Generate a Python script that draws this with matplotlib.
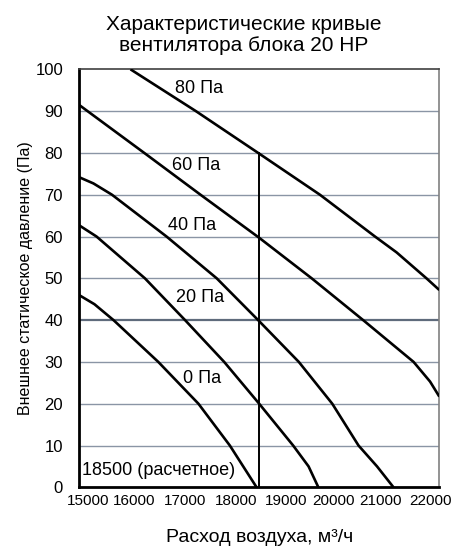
import matplotlib
matplotlib.use("Agg")
import matplotlib.pyplot as plt
from matplotlib.transforms import ScaledTranslation

plt.rcParams['font.family'] = ['Liberation Sans', 'DejaVu Sans']

# fan curves (airflow m3/h, static pressure Pa)
curve_0_x = [15000, 15300, 15670, 16540, 17320, 17930, 18450]
curve_0_y = [46, 43.8, 40, 30, 20, 10, 0]
curve_20_x = [15000, 15340, 16280, 17060, 17820, 18500, 19160, 19460, 19650]
curve_20_y = [62.7, 60, 50, 40, 30, 20, 10, 5, 0]
curve_40_x = [15000, 15280, 15640, 16700, 17675, 18480, 19270, 19920, 20430, 20790, 21110]
curve_40_y = [74.2, 72.7, 70, 60, 50, 40, 30, 20, 10, 5, 0]
curve_60_x = [15000, 16300, 17360, 18500, 19520, 20520, 21500, 21820, 22000]
curve_60_y = [91.5, 79.7, 70, 59.7, 50, 40, 30, 25.3, 21.7]
curve_80_x = [16000, 17270, 18480, 19680, 20750, 21170, 21750, 22000]
curve_80_y = [100, 90, 80, 70, 60, 56.2, 50, 47.2]

design_flow = 18500
design_top = 80

labels = ['80 Па', '60 Па', '40 Па', '20 Па', '0 Па']
label_x = [17330, 17270, 17200, 17350, 17390]
label_y = [95.5, 76.9, 62.6, 45.3, 26.1]

x_ticks = [15000, 16000, 17000, 18000, 19000, 20000, 21000, 22000]
y_ticks = list(range(0, 101, 10))

fig = plt.figure(figsize=(4.57, 5.51), dpi=100)
ax = fig.add_axes([0.1729, 0.1156, 0.7884, 0.7586])

grid_color = '#8a95a5'
for y in y_ticks[1:-1]:
    ax.axhline(y, color=grid_color if y != 40 else '#5f6b7c',
               lw=1.0 if y != 40 else 1.6, zorder=1)

for xs, ys in [(curve_0_x, curve_0_y), (curve_20_x, curve_20_y), (curve_40_x, curve_40_y),
               (curve_60_x, curve_60_y), (curve_80_x, curve_80_y)]:
    ax.plot(xs, ys, color='black', lw=1.9, solid_capstyle='butt', zorder=3)

ax.plot([design_flow, design_flow], [0, design_top], color='black', lw=1.4, zorder=3)

for t, lx, ly in zip(labels, label_x, label_y):
    ax.text(lx, ly, t, fontsize=13, ha='center', va='center', zorder=4)
ax.text(15060, 4.1, '18500 (расчетное)', fontsize=13, ha='left', va='center', zorder=4)

ax.set_xlim(15000, 22000)
ax.set_ylim(0, 100)
ax.set_xticks(x_ticks)
ax.set_yticks(y_ticks)
ax.tick_params(axis='both', length=0)
ax.tick_params(axis='x', labelsize=11, pad=5)
ax.tick_params(axis='y', labelsize=12, pad=11.5)

# the original spreads the x labels a little tighter than the ticks
shifts_px = [9, 4, 3, 3, 1, -3, -7, -9]
for lbl, dx in zip(ax.get_xticklabels(), shifts_px):
    lbl.set_transform(lbl.get_transform() + ScaledTranslation(dx / 100, 0, fig.dpi_scale_trans))

ax.spines['left'].set_linewidth(2.0)
ax.spines['bottom'].set_linewidth(2.0)
ax.spines['top'].set_color('#404040')
ax.spines['top'].set_linewidth(1.2)
ax.spines['right'].set_color('#808080')
ax.spines['right'].set_linewidth(1.2)

ax.set_xlabel('Расход воздуха, м³/ч', fontsize=14, labelpad=15)
ax.set_ylabel('Внешнее статическое давление (Па)', fontsize=11.5, labelpad=2)

fig.text(0.534, 0.972, 'Характеристические кривые\nвентилятора блока 20 HP',
         ha='center', va='top', fontsize=15, linespacing=1.1)

fig.savefig('out.png', dpi=100)
